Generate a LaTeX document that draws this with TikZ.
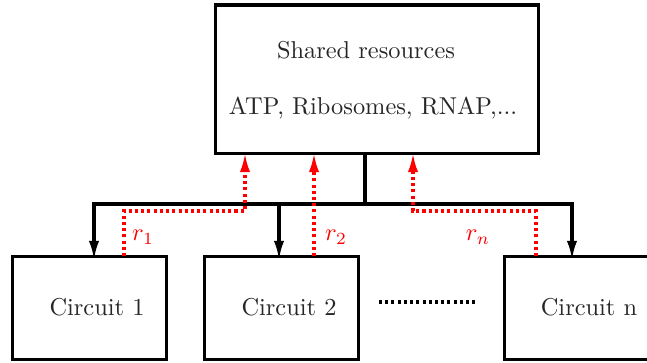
\documentclass[tikz,border=0pt]{standalone}
\usetikzlibrary{arrows.meta}
\begin{document}
\begin{tikzpicture}[x=0.41pt,y=-0.41pt,>={Latex[length=7.8pt,width=4.2pt]},
  box/.style={draw,line width=1.25pt,outer sep=0pt,minimum width=63.1pt,minimum height=42.6pt},
  txt/.style={text=black!85},
  bus/.style={line width=1.25pt},
  flux/.style={red,line width=1.25pt,dash pattern=on 1.25pt off 1.3pt},
  points/.style={line width=1.25pt,dash pattern=on 1.25pt off 1.3pt}]
  % cadre de l'image
  \clip (0,0) rectangle (647,362);

  % ressources partagees
  \node[box,minimum width=132.8pt,minimum height=60.7pt] (res) at (377,79) {};
  \node[txt] (titre) at (366,50) {Shared resources};
  \node[txt] (liste) at (373,108) {ATP, Ribosomes, RNAP,...};

  % circuits
  \node[box] (c1) at (89.5,308) {};
  \node[box] (c2) at (281.5,308) {};
  \node[box] (cn) at (581,308) {};
  \node[txt] (t1) at (97,307) {Circuit 1};
  \node[txt] (t2) at (289,307) {Circuit 2};
  \node[txt] (tn) at (589,307) {Circuit n};

  % pointilles entre les circuits
  \coordinate (d1) at (379,302);
  \coordinate (d2) at (476,302);
  \draw[points] (d1) -- (d2);

  % distribution
  \coordinate (bus) at (365,204);
  \coordinate (e1) at (94,260);
  \coordinate (e2) at (279,260);
  \coordinate (en) at (572,260);
  \draw[bus] (res.south -| bus) -- (bus);
  \draw[bus,->] (bus) -| (e1);
  \draw[bus,->] (bus) -| (en);
  \draw[bus,->] (e2 |- bus) -- (e2);

  % consommation
  \coordinate (f1) at (124,256);
  \coordinate (g1) at (245,211);
  \coordinate (f2) at (314,256);
  \coordinate (fn) at (536,256);
  \coordinate (gn) at (413,211);
  \draw[flux,->] (f1) |- (g1) -- (g1 |- res.south);
  \draw[flux,->] (f2) -- (f2 |- res.south);
  \draw[flux,->] (fn) |- (gn) -- (gn |- res.south);
  \node[red] (l1) at (143,237) {$r_1$};
  \node[red] (l2) at (336,237) {$r_2$};
  \node[red] (ln) at (478,237) {$r_n$};
\end{tikzpicture}
\end{document}
